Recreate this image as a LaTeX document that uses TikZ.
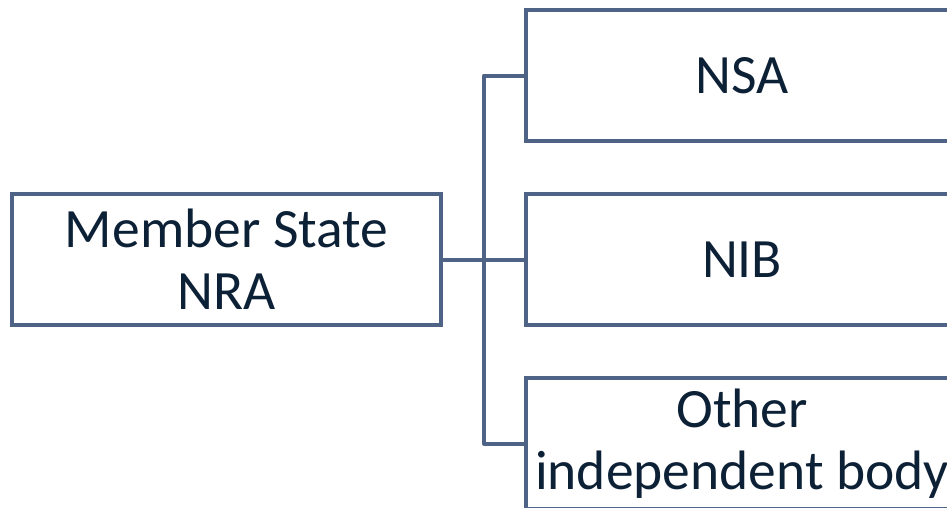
\documentclass[tikz,border=0pt]{standalone}
\usepackage{fontspec}
\setmainfont{Carlito}
\definecolor{boxline}{HTML}{4F6386}
\definecolor{boxtext}{HTML}{0C2036}
\tikzset{
  orgbox/.style={draw=boxline, line width=4pt, rectangle, align=center,
    text=boxtext, font=\fontsize{55.5}{62}\selectfont,
    minimum width=429pt, minimum height=131pt, inner sep=0pt},
  link/.style={draw=boxline, line width=4pt, line join=round}
}
\begin{document}
\begin{tikzpicture}[x=1pt, y=-1pt]
        \useasboundingbox (0,0) rectangle (947,507);
        \clip (0,0) rectangle (947,507);
        \node[orgbox]                        (nra)   at (226.5,259.5) {Member State\\NRA};
        \node[orgbox, minimum width=432pt]   (nsa)   at (742,75.5)    {NSA};
        \node[orgbox, minimum width=432pt]   (nib)   at (742,259.5)   {NIB};
        \node[orgbox, minimum width=432pt]   (other) at (742,443.5)   {Other\\independent body};
        \coordinate (hub) at (484,259.5);
        \draw[link] (nra.east) -- (nib.west);
        \draw[link] (nsa.west) -| (hub);
        \draw[link] (other.west) -| (hub);
      \end{tikzpicture}
\end{document}
